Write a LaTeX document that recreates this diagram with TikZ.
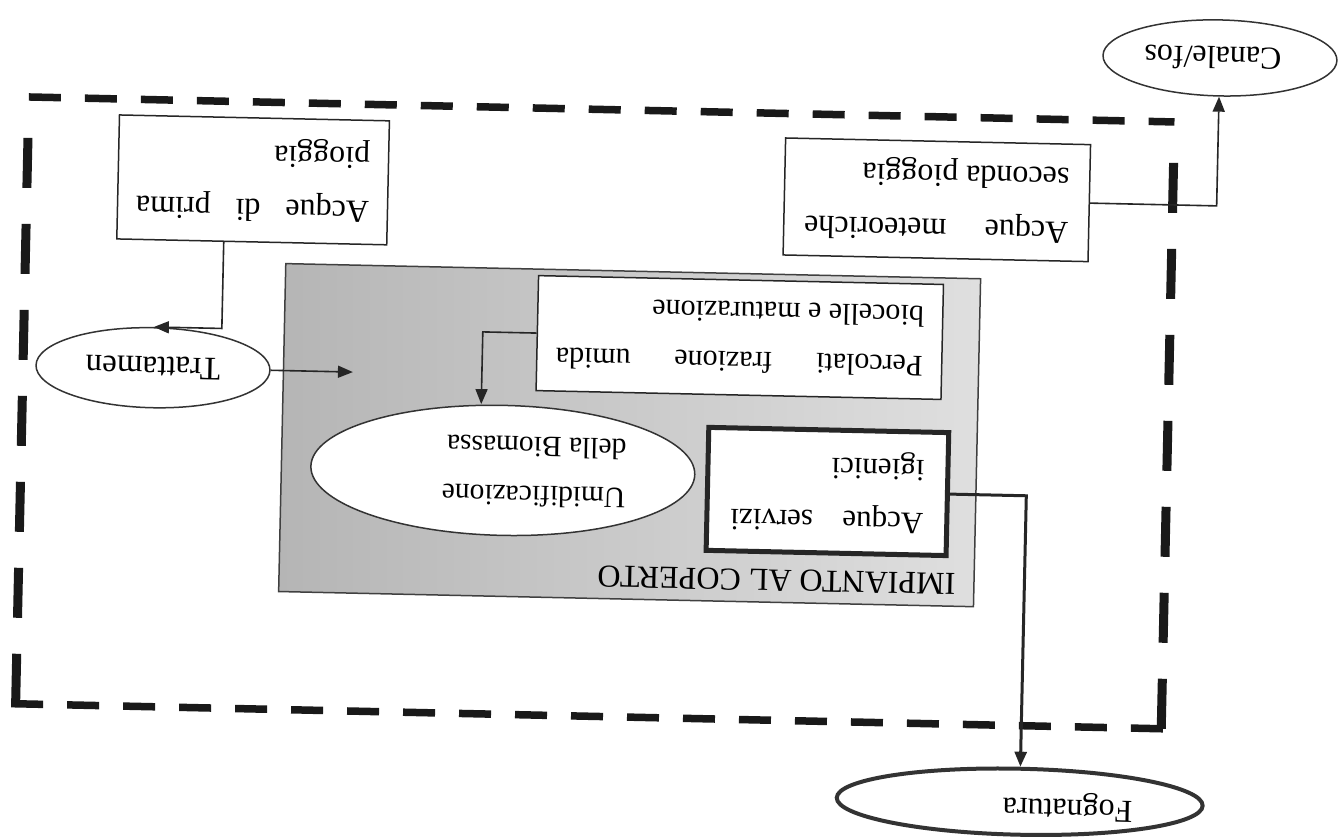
\documentclass[tikz,border=0pt]{standalone}
\usepackage{fontspec}
\setmainfont{Liberation Serif}
\usepackage{graphicx}
\usetikzlibrary{shapes.geometric,arrows.meta}
\newcommand{\upsd}[2]{\rotatebox{180}{\parbox{#1}{#2}}}
\tikzset{
  boxthin/.style={draw=black!85, line width=1.5pt, fill=white, rectangle, inner sep=0pt, transform shape, font=\fontsize{32}{54}\selectfont},
  ell/.style={draw=black!80, line width=1.5pt, fill=white, ellipse, inner sep=0pt, transform shape, font=\fontsize{32}{40}\selectfont},
  lbl/.style={inner sep=0pt, transform shape, font=\fontsize{32}{40}\selectfont},
  conn/.style={line width=1.6pt, draw=black!85, -{Triangle[length=15pt,width=12pt]}},
  hframe/.style={line width=7.5pt, draw=black!90, dash pattern=on 32pt off 24pt},
  vframe/.style={line width=9pt, draw=black!90, dash pattern=on 50pt off 36pt},
}
\begin{document}
\begin{tikzpicture}[x=1pt,y=-1pt]
\useasboundingbox (0,0) rectangle (1338,837);
\fill[white] (0,0) rectangle (1338,837);
\begin{scope}[rotate around={-1.25:(669,418)}]
  % dashed frame
  \coordinate (fTL) at (22,111);
  \coordinate (fTR) at (1168,111);
  \coordinate (fBL) at (22,718);
  \coordinate (fBR) at (1168,718);
  \draw[hframe] (fTL) -- (fTR);
  \draw[hframe] ([xshift=-4.5pt]fBL) -- ([xshift=4.5pt]fBR);
  \draw[vframe] (fBL) -- ([yshift=-10pt]fTL);
  \draw[vframe] (fBR) -- ([yshift=-25pt]fTR);
  % grey area
  \node[draw=black!75, line width=1.5pt, left color=gray!58, right color=gray!25,
        minimum width=695pt, minimum height=328pt, inner sep=0pt, transform shape] (imp) at (630,436) {};
  \node[lbl] (impT) at (780,578) {\rotatebox{180}{IMPIANTO AL COPERTO}};
  % inner boxes
  \node[boxthin, minimum width=405pt, minimum height=115pt, font=\fontsize{30}{50}\selectfont] (perc) at (738,336)
    {\upsd{367pt}{Percolati\hfill frazione\hfill umida\\ biocelle e maturazione}};
  \node[ell, minimum width=384pt, minimum height=130pt] (umid) at (504,474) {};
  \node[lbl, font=\fontsize{29.5}{49}\selectfont] (umidT) at (533,475)
    {\upsd{188pt}{Umidificazione\\della Biomassa}};
  \node[boxthin, line width=5pt, minimum width=240pt, minimum height=123pt, font=\fontsize{31}{53}\selectfont] (serv) at (829,488)
    {\upsd{193pt}{Acque\hfill servizi\\igienici}};
  % outer boxes
  \node[boxthin, minimum width=305pt, minimum height=117pt] (met) at (932,194)
    {\upsd{264pt}{Acque\hfill meteoriche\\seconda pioggia}};
  \node[boxthin, minimum width=270pt, minimum height=124pt] (prima) at (248,189)
    {\upsd{233pt}{Acque\hfill di\hfill prima\\pioggia}};
  % ellipses
  \node[ell, minimum width=234pt, minimum height=80pt, font=\fontsize{33}{40}\selectfont] (tratt) at (152,379) {\rotatebox{180}{Trattamen}};
  \node[ell, minimum width=234pt, minimum height=76pt] (can) at (1212,46) {\rotatebox{180}{\hspace*{14pt}Canale/fos}};
  \node[ell, line width=4pt, minimum width=366pt, minimum height=66pt] (fog) at (1028,794) {};
  \node[lbl] (fogT) at (1076,798) {\rotatebox{180}{Fognatura}};
  % connectors
  \coordinate (tin) at (352,379);
  \draw[conn] (met.east) -| (can.south);
  \draw[conn] ([xshift=-28pt]prima.south) |- (tratt.north);
  \draw[conn] (tratt.east) -- (tin);
  \draw[conn] (perc.west) -| ([xshift=-23pt]umid.north);
  \draw[conn, line width=3pt] (serv.east) -| (fog.north);
\end{scope}
\end{tikzpicture}
\end{document}
